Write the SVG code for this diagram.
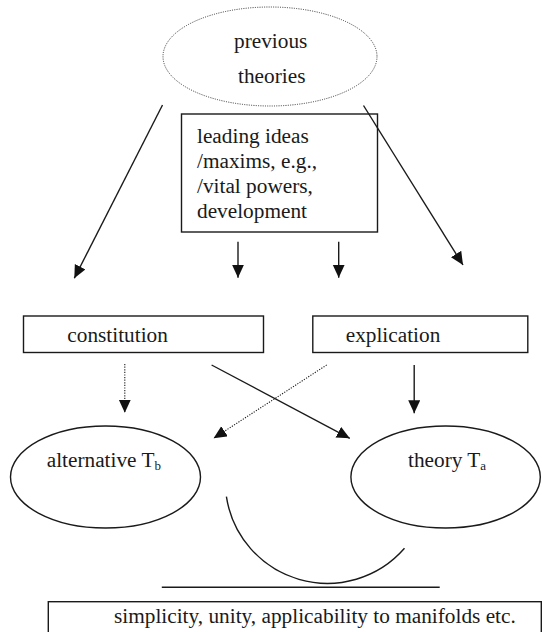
<svg xmlns="http://www.w3.org/2000/svg" width="542" height="632" viewBox="0 0 542 632">
<style>
  text { font-family: "Liberation Serif", "Times New Roman", serif; font-size: 21.3px; fill: #1a1a1a; }
  .sub { font-size: 13px; }
  .shape { fill: #fff; stroke: #1a1a1a; stroke-width: 1.4; }
  .dotshape { fill: none; stroke: #333; stroke-width: 1; stroke-dasharray: 1 1.3; }
  .line { fill: none; stroke: #1a1a1a; stroke-width: 1.4; }
  .dotted { fill: none; stroke: #1a1a1a; stroke-width: 1.1; stroke-dasharray: 1.2 1.4; }
</style>
<defs>
  <marker id="arrow" markerUnits="userSpaceOnUse" markerWidth="14" markerHeight="13" refX="13" refY="6" orient="auto">
    <path d="M0,0 L13,6 L0,12 z" fill="#111"/>
  </marker>
</defs>
<rect width="542" height="632" fill="#fff"/>

<g id="previous-theories">
  <ellipse class="dotshape" cx="270" cy="56.5" rx="107" ry="49.5"/>
  <text x="234" y="47.5">previous</text>
  <text x="238" y="83">theories</text>
</g>

<g id="leading-ideas">
  <rect class="shape" x="181.5" y="114" width="196" height="118"/>
  <text x="197" y="143">leading ideas</text>
  <text x="197" y="168">/maxims, e.g.,</text>
  <text x="197" y="193">/vital powers,</text>
  <text x="197" y="218">development</text>
</g>

<g id="constitution">
  <rect class="shape" x="23.5" y="316" width="240" height="36.5"/>
  <text x="67.3" y="341.5">constitution</text>
</g>

<g id="explication">
  <rect class="shape" x="312.8" y="316" width="215" height="36.5"/>
  <text x="345.7" y="341.5">explication</text>
</g>

<g id="alternative">
  <ellipse class="shape" cx="105.5" cy="477" rx="95" ry="51"/>
  <text x="46.7" y="467">alternative T<tspan class="sub" dy="3">b</tspan></text>
</g>

<g id="theory">
  <ellipse class="shape" cx="445.6" cy="477" rx="94.7" ry="51"/>
  <text x="408" y="467">theory T<tspan class="sub" dy="3">a</tspan></text>
</g>

<g id="criteria">
  <rect class="shape" x="48.3" y="601.7" width="493" height="45"/>
  <text x="114" y="623">simplicity, unity, applicability to manifolds etc.</text>
</g>

<g id="connectors">
  <line class="line" x1="162.5" y1="105" x2="74.3" y2="278.3" marker-end="url(#arrow)"/>
  <line class="line" x1="363.5" y1="105.5" x2="463" y2="265" marker-end="url(#arrow)"/>
  <line class="line" x1="238" y1="241.7" x2="238" y2="277.7" marker-end="url(#arrow)"/>
  <line class="line" x1="338.7" y1="241.7" x2="338.7" y2="277.7" marker-end="url(#arrow)"/>
  <line class="dotted" x1="124.8" y1="364" x2="124.8" y2="412.7" marker-end="url(#arrow)"/>
  <line class="line" x1="211.6" y1="365" x2="349.8" y2="438.3" marker-end="url(#arrow)"/>
  <line class="dotted" x1="326.7" y1="365" x2="213.6" y2="438.3" marker-end="url(#arrow)"/>
  <line class="line" x1="414.2" y1="365" x2="414.2" y2="413.3" marker-end="url(#arrow)"/>
  <path class="line" d="M226.4,496.7 A102.2,102.2 0 0,0 404.5,548.3"/>
  <line class="line" x1="161.8" y1="587.3" x2="439.7" y2="587.3"/>
</g>
</svg>
